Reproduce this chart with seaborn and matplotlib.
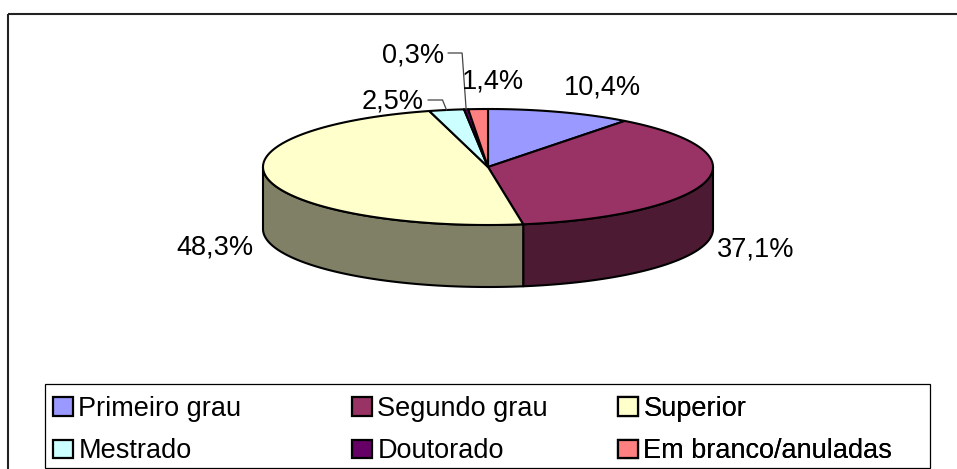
import numpy as np
import matplotlib
matplotlib.use("Agg")
import matplotlib.pyplot as plt
import seaborn as sns
from matplotlib.patches import Polygon, Rectangle, Patch

# ---- data ----
categories = ["Primeiro grau", "Segundo grau", "Superior",
              "Mestrado", "Doutorado", "Em branco/anuladas"]
shares = [10.4, 37.1, 48.3, 2.5, 0.3, 1.4]
pct_labels = ["10,4%", "37,1%", "48,3%", "2,5%", "0,3%", "1,4%"]
colors = ["#9999FF", "#993366", "#FFFFCC", "#CCFFFF", "#660066", "#FF8080"]

# ---- layout (pixels) ----
label_pos = [(602, 87), (756, 249), (215, 247), (393, 102), (413, 55), (493, 82)]
leader = [False, False, False, True, True, False]
legend_cols_x = [53, 352, 618]

sns.set_theme(style="white")
plt.rcParams["font.family"] = ["Liberation Sans", "DejaVu Sans"]
plt.rcParams["text.color"] = "black"

fig = plt.figure(figsize=(9.57, 4.69), dpi=100)
ax = fig.add_axes([0, 0, 1, 1])
ax.set_xlim(0, 957)
ax.set_ylim(469, 0)
ax.axis("off")

palette = sns.color_palette(colors)
side = [tuple(c * 0.5 for c in col) for col in palette]

CX, CY, RX, RY, DEPTH = 488, 167, 225, 58, 62


def rim(theta, dz=0.0):
    t = np.radians(np.atleast_1d(theta))
    return np.column_stack([CX + RX * np.sin(t), CY - RY * np.cos(t) + dz])


angles = np.concatenate([[0], np.cumsum(shares)]) / sum(shares) * 360

# side walls (front half only)
for i in range(len(shares)):
    a = max(angles[i], 90)
    b = min(angles[i + 1], 270)
    if b > a:
        th = np.linspace(a, b, 200)
        poly = np.vstack([rim(th), rim(th[::-1], DEPTH)])
        ax.add_patch(Polygon(poly, closed=True, fc=side[i], ec="black",
                             lw=1.5, joinstyle="round"))

# top faces
for i in range(len(shares)):
    th = np.linspace(angles[i], angles[i + 1], 200)
    poly = np.vstack([[[CX, CY]], rim(th)])
    ax.add_patch(Polygon(poly, closed=True, fc=palette[i], ec="black",
                         lw=1.5, joinstyle="round"))

# labels
for i, lab in enumerate(pct_labels):
    x, y = label_pos[i]
    ax.text(x, y, lab, ha="center", va="center", fontsize=19.5, color="black")
    if leader[i]:
        mid = (angles[i] + angles[i + 1]) / 2
        end = rim(mid)[0]
        x0 = x + 35
        ax.plot([x0, end[0] - 4, end[0]], [y - 2, y - 2, end[1]],
                color="#444444", lw=0.9, solid_joinstyle="miter")

# legend: one column each, framed by one box
for k, xk in enumerate(legend_cols_x):
    idx = [k, k + 3]
    handles = [Patch(fc=palette[i], ec="black", lw=1.6) for i in idx]
    leg = ax.legend(handles, [categories[i] for i in idx], loc="upper left",
                    bbox_to_anchor=(xk, 396), bbox_transform=ax.transData,
                    frameon=False, fontsize=19.5, handlelength=0.74,
                    handleheight=0.66, handletextpad=0.2, labelspacing=0.6,
                    borderpad=0, borderaxespad=0, labelcolor="black")
    ax.add_artist(leg)

ax.add_patch(Rectangle((45, 384), 885, 84, fill=False, ec="black", lw=0.9))
ax.add_patch(Rectangle((8, 14), 960, 470, fill=False, ec="#222222", lw=1.5))

fig.savefig("out.png", dpi=100)
